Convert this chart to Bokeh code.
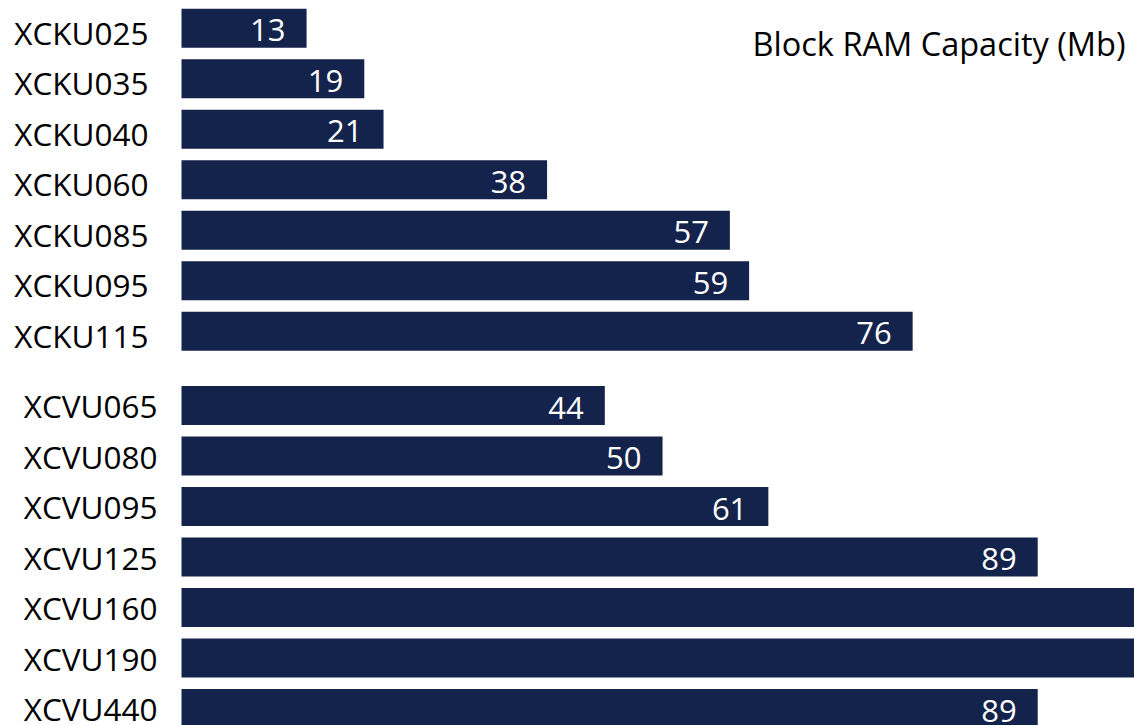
from bokeh.plotting import figure
from bokeh.models import ColumnDataSource, Range1d, Label
from bokeh.core.properties import value
from bokeh.embed import file_html
from bokeh.resources import INLINE

# ---- data ----
ku_devices = ["XCKU025", "XCKU035", "XCKU040", "XCKU060", "XCKU085", "XCKU095", "XCKU115"]
ku_bram = [13, 19, 21, 38, 57, 59, 76]
vu_devices = ["XCVU065", "XCVU080", "XCVU095", "XCVU125", "XCVU160", "XCVU190", "XCVU440"]
vu_bram = [44, 50, 61, 89, 115, 133, 89]
title_text = "Block RAM Capacity (Mb)"

# ---- layout ----
W, H = 1134, 725
NAVY = "#14234b"
FONT = "Open Sans"
GROUP_GAP = 0.47
X_START, X_END = -18.815, 99.06

rows, vals, names, lab_off, lab_yoff = [], [], [], [], []
for i, (n, v) in enumerate(zip(ku_devices, ku_bram)):
    rows.append(i); vals.append(v); names.append(n); lab_off.append(-33); lab_yoff.append(4)
for j, (n, v) in enumerate(zip(vu_devices, vu_bram)):
    rows.append(len(ku_devices) + GROUP_GAP + j); vals.append(v); names.append(n)
    lab_off.append(-24); lab_yoff.append(0)

src = ColumnDataSource(dict(y=rows, v=vals, name=names, off=lab_off, yoff=lab_yoff,
                            zero=[0] * len(rows)))
vis = [k for k, v in enumerate(vals) if v < X_END]
val_src = ColumnDataSource(dict(y=[rows[k] for k in vis], v=[vals[k] for k in vis],
                                txt=[str(vals[k]) for k in vis]))

p = figure(width=W, height=H, output_backend="svg", toolbar_location=None,
           x_range=Range1d(X_START, X_END), y_range=Range1d(13.806, -0.550),
           min_border=0, outline_line_color=None)
p.axis.visible = False
p.grid.visible = False
p.background_fill_color = "white"
p.border_fill_color = "white"

p.hbar(y="y", left="zero", right="v", height=0.772, source=src,
       fill_color=NAVY, line_color=None)

p.text(x="zero", y="y", text="name", x_offset="off", y_offset="yoff", source=src,
       text_align="right", text_baseline="middle", text_color="black",
       text_font=value(FONT), text_font_size="31.5px")

p.text(x="v", y="y", text="txt", x_offset=-21, y_offset=2, source=val_src,
       text_align="right", text_baseline="middle", text_color="white",
       text_font=value(FONT), text_font_size="31px")

p.add_layout(Label(x=1125, y=H - 43, x_units="screen", y_units="screen",
                   text=title_text, text_align="right", text_baseline="alphabetic",
                   text_font=FONT, text_font_size="32.5px", text_color="black"))

open("out.html", "w").write(file_html(p, INLINE))
